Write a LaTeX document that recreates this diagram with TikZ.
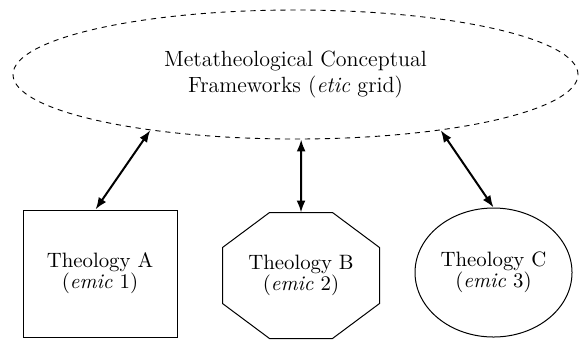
\documentclass[tikz,border=0pt]{standalone}
\usetikzlibrary{arrows.meta,shapes.geometric}
\begin{document}
\begin{tikzpicture}[x=0.5pt,y=-0.5pt,
    grid/.style={draw, ellipse, dash pattern=on 2.6pt off 2.4pt, line width=0.45pt,
      minimum width=282.5pt, minimum height=64.5pt, inner sep=0pt, align=center,
      font=\fontsize{11}{13}\selectfont},
    emic/.style={align=center, inner sep=0pt, line width=0.5pt,
      font=\fontsize{10.4}{10.5}\selectfont},
    link/.style={>={Latex[length=6pt,width=4.5pt]}, <->, line width=1pt}]
  \useasboundingbox (0,0) rectangle (581,339);
  \node[grid] (meta) at (295.5,74.5) {Metatheological Conceptual\\Frameworks (\emph{etic} grid)};
  \node[emic, draw, minimum width=77pt, minimum height=63.5pt] (thA) at (100,273.5) {Theology A\\(\emph{emic} 1)};
  \node[emic, minimum width=78pt, minimum height=62.5pt] (thB) at (301,275.5) {Theology B\\(\emph{emic} 2)};
  \node[emic, draw, ellipse, minimum width=78.5pt, minimum height=64.5pt] (thC) at (493.5,272.5) {Theology C\\(\emph{emic} 3)};
  % octagon round B
  \draw[line width=0.5pt] ([xshift=23.5pt]thB.north west) -- ([xshift=-23.5pt]thB.north east)
    -- ([yshift=-17.5pt]thB.north east) -- ([yshift=17.5pt]thB.south east)
    -- ([xshift=-23.5pt]thB.south east) -- ([xshift=23.5pt]thB.south west)
    -- ([yshift=17.5pt]thB.south west) -- ([yshift=-17.5pt]thB.north west) -- cycle;
  \draw[link] (meta.201) -- (thA.94);
  \draw[link] (meta.275) -- (thB.north);
  \draw[link] (meta.339) -- (thC.north);
\end{tikzpicture}
\end{document}
